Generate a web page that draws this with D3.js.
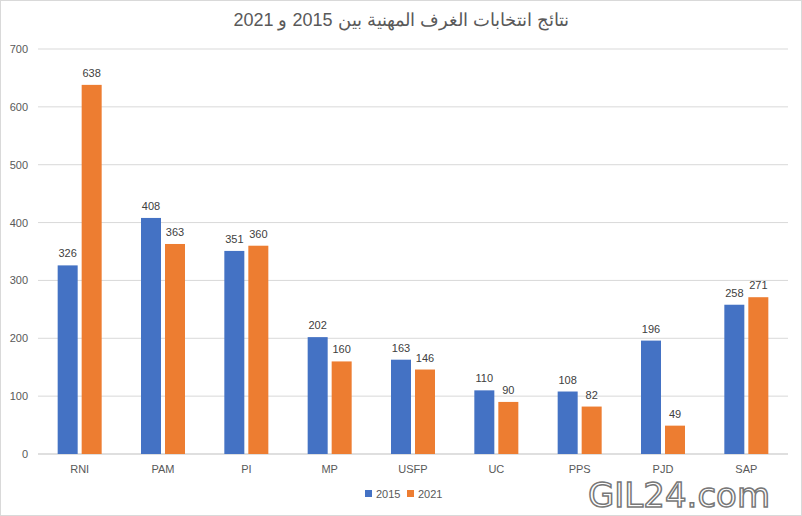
<!DOCTYPE html>
<html><head><meta charset="utf-8">
<script src="https://cdn.jsdelivr.net/npm/d3@7"></script>
<style>body{margin:0;background:#fff}svg{font-family:"Liberation Sans",Arial,sans-serif}</style>
</head><body><svg id="c" width="802" height="516"></svg>
<script>
const categories=["RNI","PAM","PI","MP","USFP","UC","PPS","PJD","SAP"];
const series2015=[326,408,351,202,163,110,108,196,258];
const series2021=[638,363,360,160,146,90,82,49,271];
const yTicks=[0,100,200,300,400,500,600,700];
const title="نتائج انتخابات الغرف المهنية بين 2015 و 2021";
const svg=d3.select("#c");
svg.append("rect").attr("x",0.5).attr("y",0.5).attr("width",801).attr("height",515).attr("fill","#fff").attr("stroke","#d9d9d9");
const x=d3.scaleBand().domain(categories).range([38,788]);
const y=d3.scaleLinear().domain([0,700]).range([454,49]);
const g=svg.append("g");
yTicks.forEach(t=>{
 g.append("line").attr("x1",38).attr("x2",788).attr("y1",y(t)).attr("y2",y(t)).attr("stroke",t===0?"#bfbfbf":"#d9d9d9");
 g.append("text").attr("x",28).attr("y",y(t)+4).attr("text-anchor","end").attr("font-size",11).attr("fill","#595959").text(t);
});
const bw=20,gap=4;
const cols=["#4472C4","#ED7D31"];
[series2015,series2021].forEach((s,i)=>{
 categories.forEach((c,j)=>{
  const cx=x(c)+x.bandwidth()/2;
  const bx=i===0?cx-gap/2-bw:cx+gap/2;
  g.append("rect").attr("x",bx).attr("y",y(s[j])).attr("width",bw).attr("height",y(0)-y(s[j])).attr("fill",cols[i]);
  g.append("text").attr("x",bx+bw/2).attr("y",y(s[j])-8).attr("text-anchor","middle").attr("font-size",11).attr("fill","#404040").text(s[j]);
 });
});
categories.forEach(c=>{
 g.append("text").attr("x",x(c)+x.bandwidth()/2).attr("y",473).attr("text-anchor","middle").attr("font-size",11).attr("fill","#595959").text(c);
});
svg.append("text").attr("x",401).attr("y",26).attr("text-anchor","middle").attr("font-size",18).attr("fill","#595959").text(title);
[["2015",0,365],["2021",1,407]].forEach(([t,i,lx])=>{
 svg.append("rect").attr("x",lx).attr("y",490).attr("width",7).attr("height",7).attr("fill",cols[i]);
 svg.append("text").attr("x",lx+11).attr("y",498).attr("font-size",11).attr("fill","#595959").text(t);
});
svg.append("text").attr("x",588).attr("y",507).attr("font-size",34).attr("font-family","DejaVu Sans").attr("fill","#fff").attr("stroke","#777").attr("stroke-width",1.5).text("GIL24.com");
</script></body></html>
